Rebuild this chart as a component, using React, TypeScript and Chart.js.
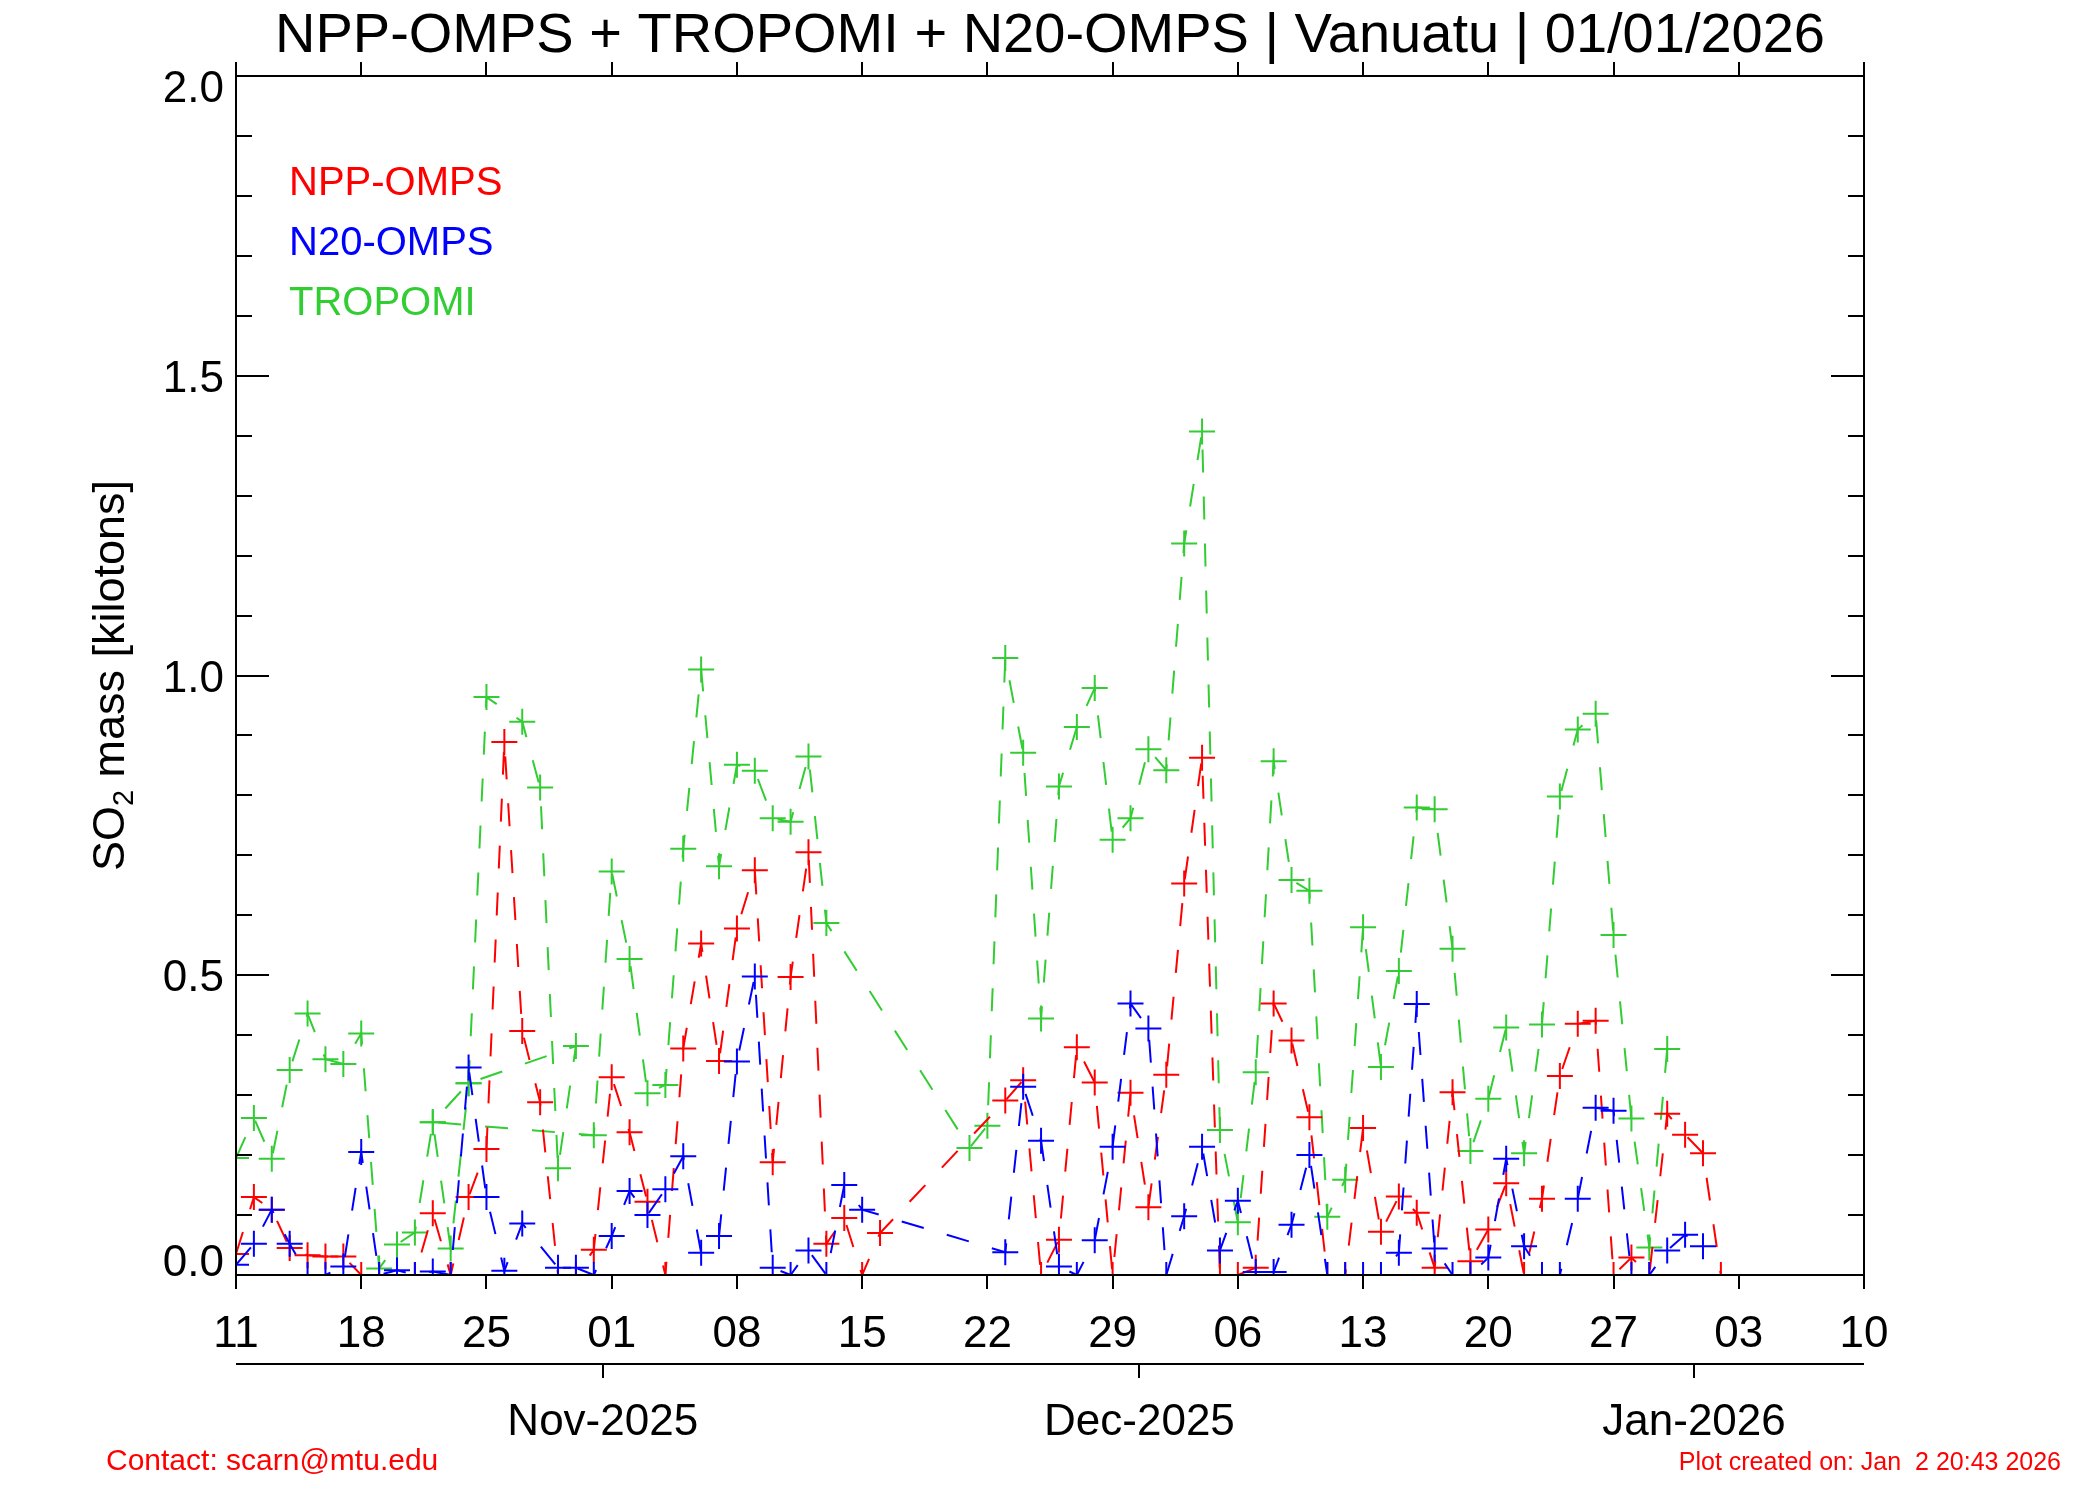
import React, { useEffect, useRef } from "react";
import { Chart, registerables } from "chart.js";

Chart.register(...registerables);

// ---------- text ----------
const TITLE = "NPP-OMPS + TROPOMI + N20-OMPS | Vanuatu | 01/01/2026";
const Y_TITLE_MAIN = "SO";
const Y_TITLE_SUB = "2";
const Y_TITLE_REST = " mass [kilotons]";
const CONTACT_TEXT = "Contact: scarn@mtu.edu";
const CREATED_TEXT = "Plot created on: Jan  2 20:43 2026";

// ---------- axes ----------
const AXIS_START = "2025-10-11";
const AXIS_END = "2026-01-10";
const DAY_TICK_STEP = 7;
const DAY_TICK_LABELS = ["11", "18", "25", "01", "08", "15", "22", "29", "06", "13", "20", "27", "03", "10"];
const MONTH_TICK_DATES = ["2025-11-01", "2025-12-01", "2026-01-01"];
const MONTH_TICK_LABELS = ["Nov-2025", "Dec-2025", "Jan-2026"];
const Y_MIN = 0;
const Y_MAX = 2;
const Y_MAJOR_STEP = 0.5;
const Y_MINOR_STEP = 0.1;
const Y_TICK_LABELS = ["0.0", "0.5", "1.0", "1.5", "2.0"];

// ---------- series ----------
const SERIES_NAMES = ["NPP-OMPS", "N20-OMPS", "TROPOMI"];

const NPP_DATES = [
  "2025-10-11", "2025-10-12", "2025-10-13", "2025-10-14", "2025-10-15", "2025-10-16", "2025-10-17",
  "2025-10-18", "2025-10-19", "2025-10-20", "2025-10-21", "2025-10-22", "2025-10-23", "2025-10-24",
  "2025-10-25", "2025-10-26", "2025-10-27", "2025-10-28", "2025-10-29", "2025-10-30", "2025-10-31",
  "2025-11-01", "2025-11-02", "2025-11-03", "2025-11-04", "2025-11-05", "2025-11-06", "2025-11-07",
  "2025-11-08", "2025-11-09", "2025-11-10", "2025-11-11", "2025-11-12", "2025-11-13", "2025-11-14",
  "2025-11-15", "2025-11-16",
  "2025-11-23", "2025-11-24", "2025-11-25", "2025-11-26", "2025-11-27", "2025-11-28", "2025-11-29",
  "2025-11-30",
  "2025-12-01", "2025-12-02", "2025-12-03", "2025-12-04", "2025-12-05", "2025-12-06", "2025-12-07",
  "2025-12-08", "2025-12-09", "2025-12-10", "2025-12-11", "2025-12-12", "2025-12-13", "2025-12-14",
  "2025-12-15", "2025-12-16", "2025-12-17", "2025-12-18", "2025-12-19", "2025-12-20", "2025-12-21",
  "2025-12-22", "2025-12-23", "2025-12-24", "2025-12-25", "2025-12-26", "2025-12-27", "2025-12-28",
  "2025-12-29", "2025-12-30", "2025-12-31",
  "2026-01-01", "2026-01-02",
];
const NPP_VALUES = [
  0.035, 0.13, 0.109, 0.045, 0.033, 0.031, 0.031,
  0, 0, 0, 0, 0.103, 0, 0.13,
  0.21, 0.889, 0.407, 0.288, 0, 0, 0.042,
  0.33, 0.238, 0.122, 0, 0.378, 0.553, 0.357,
  0.578, 0.675, 0.188, 0.497, 0.705, 0.052, 0.095,
  0, 0.07,
  0.291, 0.325, 0, 0.059, 0.38, 0.321, 0,
  0.304,
  0.113, 0.334, 0.653, 0.863, 0, 0, 0.012,
  0.453, 0.391, 0.263, 0, 0, 0.245, 0.072,
  0.131, 0.104, 0.012, 0.305, 0.023, 0.076, 0.153,
  0, 0.127, 0.332, 0.419, 0.424, 0, 0.029,
  0, 0.269, 0.234,
  0.203, 0,
];

const N20_DATES = [
  "2025-10-11", "2025-10-12", "2025-10-13", "2025-10-14", "2025-10-15", "2025-10-16", "2025-10-17",
  "2025-10-18", "2025-10-19", "2025-10-20", "2025-10-21", "2025-10-22", "2025-10-23", "2025-10-24",
  "2025-10-25", "2025-10-26", "2025-10-27",
  "2025-10-29", "2025-10-30", "2025-10-31",
  "2025-11-01", "2025-11-02", "2025-11-03", "2025-11-04", "2025-11-05", "2025-11-06", "2025-11-07",
  "2025-11-08", "2025-11-09", "2025-11-10", "2025-11-11", "2025-11-12", "2025-11-13", "2025-11-14",
  "2025-11-15",
  "2025-11-23", "2025-11-24", "2025-11-25", "2025-11-26", "2025-11-27", "2025-11-28", "2025-11-29",
  "2025-11-30",
  "2025-12-01", "2025-12-02", "2025-12-03", "2025-12-04", "2025-12-05", "2025-12-06", "2025-12-07",
  "2025-12-08", "2025-12-09", "2025-12-10", "2025-12-11", "2025-12-12", "2025-12-13", "2025-12-14",
  "2025-12-15", "2025-12-16", "2025-12-17", "2025-12-18", "2025-12-19", "2025-12-20", "2025-12-21",
  "2025-12-22", "2025-12-23", "2025-12-24", "2025-12-25", "2025-12-26", "2025-12-27", "2025-12-28",
  "2025-12-29", "2025-12-30", "2025-12-31",
  "2026-01-01",
];
const N20_VALUES = [
  0.017, 0.052, 0.109, 0.052, 0, 0, 0.014,
  0.205, 0, 0.008, 0, 0.006, 0, 0.346,
  0.13, 0.007, 0.086,
  0.012, 0.012, 0,
  0.065, 0.14, 0.1, 0.143, 0.198, 0.037, 0.065,
  0.356, 0.498, 0.012, 0, 0.041, 0, 0.15,
  0.109,
  0.038, 0.314, 0.224, 0.014, 0, 0.058, 0.214,
  0.453,
  0.411, 0, 0.098, 0.214, 0.041, 0.124, 0.005,
  0.005, 0.084, 0.2, 0, 0, 0, 0,
  0.037, 0.452, 0.044, 0, 0, 0.029, 0.194,
  0.048, 0, 0, 0.127, 0.279, 0.274, 0,
  0, 0.041, 0.067,
  0.048,
];

// TROPOMI retrievals in file order (the record revisits Oct 24 and Oct 22)
const TROPOMI_DATES = [
  "2025-10-11", "2025-10-12", "2025-10-13", "2025-10-14", "2025-10-15", "2025-10-16", "2025-10-17",
  "2025-10-18", "2025-10-19", "2025-10-20", "2025-10-21", "2025-10-22", "2025-10-23", "2025-10-24",
  "2025-10-25", "2025-10-27", "2025-10-28", "2025-10-29", "2025-10-30", "2025-10-24", "2025-10-22",
  "2025-10-31",
  "2025-11-01", "2025-11-02", "2025-11-03", "2025-11-04", "2025-11-05", "2025-11-06", "2025-11-07",
  "2025-11-08", "2025-11-09", "2025-11-10", "2025-11-11", "2025-11-12", "2025-11-13",
  "2025-11-21", "2025-11-22", "2025-11-23", "2025-11-24", "2025-11-25", "2025-11-26", "2025-11-27",
  "2025-11-28", "2025-11-29", "2025-11-30",
  "2025-12-01", "2025-12-02", "2025-12-03", "2025-12-04", "2025-12-05", "2025-12-06", "2025-12-07",
  "2025-12-08", "2025-12-09", "2025-12-10", "2025-12-11", "2025-12-12", "2025-12-13", "2025-12-14",
  "2025-12-15", "2025-12-16", "2025-12-17", "2025-12-18", "2025-12-19", "2025-12-20", "2025-12-21",
  "2025-12-22", "2025-12-23", "2025-12-24", "2025-12-25", "2025-12-26", "2025-12-27", "2025-12-28",
  "2025-12-29", "2025-12-30",
];
const TROPOMI_VALUES = [
  0.195, 0.262, 0.194, 0.342, 0.436, 0.36, 0.352,
  0.403, 0.011, 0.051, 0.071, 0.255, 0.044, 0.32,
  0.964, 0.923, 0.813, 0.178, 0.382, 0.32, 0.255,
  0.233,
  0.673, 0.527, 0.303, 0.317, 0.711, 1.01, 0.682,
  0.851, 0.841, 0.762, 0.756, 0.865, 0.587,
  0.212, 0.249, 1.029, 0.871, 0.428, 0.815, 0.914,
  0.979, 0.726, 0.762,
  0.877, 0.842, 1.22, 1.407, 0.242, 0.088, 0.338,
  0.857, 0.659, 0.641, 0.097, 0.159, 0.58, 0.347,
  0.507, 0.78, 0.777, 0.544, 0.207, 0.294, 0.413,
  0.203, 0.418, 0.798, 0.91, 0.936, 0.567, 0.261,
  0.046, 0.377,
];

// ---------- styles ----------
const COLOR_NPP = "#ff0000";
const COLOR_N20 = "#0000ff";
const COLOR_TROPOMI = "#32cd32";
const FONT = "'Liberation Sans', Arial, Helvetica, sans-serif";

const DAY_MS = 86400000;
const dayIndex = (iso: string) =>
  (Date.parse(iso + "T00:00:00Z") - Date.parse(AXIS_START + "T00:00:00Z")) / DAY_MS;

const toPoints = (dates: string[], values: number[]) =>
  dates.map((d, i) => ({ x: dayIndex(d), y: values[i] }));

const makeDataset = (label: string, dates: string[], values: number[], color: string, order: number) => ({
  label,
  data: toPoints(dates, values),
  borderColor: color,
  backgroundColor: color,
  borderWidth: 2,
  borderDash: [23, 24],
  borderCapStyle: "butt" as const,
  pointStyle: "cross" as const,
  pointRadius: 13,
  pointHoverRadius: 13,
  pointBorderWidth: 2,
  pointBorderColor: color,
  pointBackgroundColor: color,
  tension: 0,
  fill: false,
  spanGaps: true,
  clip: 0,
  order,
});

const idlFramePlugin = {
  id: "idlFrame",
  afterDraw(chart: any) {
    const { ctx, chartArea: a } = chart;
    const xs = chart.scales.x;
    const ys = chart.scales.y;
    ctx.save();
    ctx.strokeStyle = "#000000";
    ctx.fillStyle = "#000000";
    ctx.lineWidth = 2;
    ctx.lineCap = "butt";
    ctx.setLineDash([]);

    // plot frame
    ctx.strokeRect(a.left, a.top, a.right - a.left, a.bottom - a.top);

    // y ticks (inward, both sides)
    const nMinor = Math.round((Y_MAX - Y_MIN) / Y_MINOR_STEP);
    ctx.beginPath();
    for (let i = 0; i <= nMinor; i++) {
      const v = Y_MIN + i * Y_MINOR_STEP;
      const py = Math.round(ys.getPixelForValue(v));
      const r = v / Y_MAJOR_STEP;
      const major = Math.abs(r - Math.round(r)) < 1e-6;
      const len = major ? 33 : 16;
      ctx.moveTo(a.left, py);
      ctx.lineTo(a.left + len, py);
      ctx.moveTo(a.right, py);
      ctx.lineTo(a.right - len, py);
    }
    ctx.stroke();

    // y tick labels
    ctx.font = `44px ${FONT}`;
    ctx.textAlign = "right";
    ctx.textBaseline = "alphabetic";
    Y_TICK_LABELS.forEach((lab, i) => {
      const v = Y_MIN + i * Y_MAJOR_STEP;
      const py = ys.getPixelForValue(v);
      let base = py + 16;
      if (i === Y_TICK_LABELS.length - 1) base = py + 26;
      if (i === 0) base = py + 1;
      ctx.fillText(lab, a.left - 12, base);
    });

    // x ticks: bottom and top, outward
    ctx.beginPath();
    DAY_TICK_LABELS.forEach((_, i) => {
      const px = Math.round(xs.getPixelForValue(i * DAY_TICK_STEP));
      ctx.moveTo(px, a.bottom);
      ctx.lineTo(px, a.bottom + 14);
      ctx.moveTo(px, a.top);
      ctx.lineTo(px, a.top - 14);
    });
    ctx.stroke();

    ctx.textAlign = "center";
    DAY_TICK_LABELS.forEach((lab, i) => {
      const px = xs.getPixelForValue(i * DAY_TICK_STEP);
      ctx.fillText(lab, px, a.bottom + 72);
    });

    // month axis
    const my = a.bottom + 89;
    ctx.beginPath();
    ctx.moveTo(a.left, my);
    ctx.lineTo(a.right, my);
    MONTH_TICK_DATES.forEach((d) => {
      const px = Math.round(xs.getPixelForValue(dayIndex(d) - 0.5));
      ctx.moveTo(px, my);
      ctx.lineTo(px, my + 14);
    });
    ctx.stroke();
    MONTH_TICK_DATES.forEach((d, i) => {
      const px = xs.getPixelForValue(dayIndex(d) - 0.5);
      ctx.fillText(MONTH_TICK_LABELS[i], px, a.bottom + 160);
    });

    // title
    ctx.font = `56px ${FONT}`;
    ctx.fillText(TITLE, chart.width / 2, a.top - 24);

    // y axis title
    ctx.save();
    ctx.translate(a.left - 112, (a.top + a.bottom) / 2);
    ctx.rotate(-Math.PI / 2);
    ctx.textAlign = "left";
    const fMain = `45px ${FONT}`;
    const fSub = `29px ${FONT}`;
    ctx.font = fMain;
    const w1 = ctx.measureText(Y_TITLE_MAIN).width;
    const w3 = ctx.measureText(Y_TITLE_REST).width;
    ctx.font = fSub;
    const w2 = ctx.measureText(Y_TITLE_SUB).width;
    const x0 = -(w1 + w2 + w3) / 2;
    ctx.font = fMain;
    ctx.fillText(Y_TITLE_MAIN, x0, 0);
    ctx.font = fSub;
    ctx.fillText(Y_TITLE_SUB, x0 + w1, 9);
    ctx.font = fMain;
    ctx.fillText(Y_TITLE_REST, x0 + w1 + w2, 0);
    ctx.restore();

    // legend (text only)
    ctx.textAlign = "left";
    ctx.font = `40px ${FONT}`;
    const legendColors = [COLOR_NPP, COLOR_N20, COLOR_TROPOMI];
    SERIES_NAMES.forEach((name, i) => {
      ctx.fillStyle = legendColors[i];
      ctx.fillText(name, a.left + 53, a.top + 119 + i * 60);
    });

    // footer
    ctx.fillStyle = "#ff0000";
    ctx.font = `30px ${FONT}`;
    ctx.textAlign = "left";
    ctx.fillText(CONTACT_TEXT, 106, chart.height - 30);
    ctx.font = `25px ${FONT}`;
    ctx.textAlign = "right";
    ctx.fillText(CREATED_TEXT, chart.width - 39, chart.height - 30);

    ctx.restore();
  },
};

export default function App() {
  const canvasRef = useRef<HTMLCanvasElement | null>(null);

  useEffect(() => {
    const canvas = canvasRef.current;
    if (!canvas) return;
    const chart = new Chart(canvas, {
      type: "line",
      data: {
        datasets: [
          makeDataset(SERIES_NAMES[0], NPP_DATES, NPP_VALUES, COLOR_NPP, 1),
          makeDataset(SERIES_NAMES[1], N20_DATES, N20_VALUES, COLOR_N20, 0),
          makeDataset(SERIES_NAMES[2], TROPOMI_DATES, TROPOMI_VALUES, COLOR_TROPOMI, 2),
        ],
      },
      options: {
        responsive: false,
        maintainAspectRatio: false,
        animation: false,
        events: [],
        layout: { padding: { left: 236, right: 236, top: 76, bottom: 225 } },
        scales: {
          x: { type: "linear", min: 0, max: dayIndex(AXIS_END), display: false },
          y: { type: "linear", min: Y_MIN, max: Y_MAX, display: false },
        },
        plugins: {
          legend: { display: false },
          title: { display: false },
          tooltip: { enabled: false },
        },
      },
      plugins: [idlFramePlugin],
    } as any);
    return () => chart.destroy();
  }, []);

  return (
    <div style={{ position: "absolute", left: 0, top: 0, width: 2100, height: 1500, background: "#ffffff" }}>
      <canvas ref={canvasRef} width={2100} height={1500} style={{ display: "block", width: "2100px", height: "1500px" }} />
    </div>
  );
}
